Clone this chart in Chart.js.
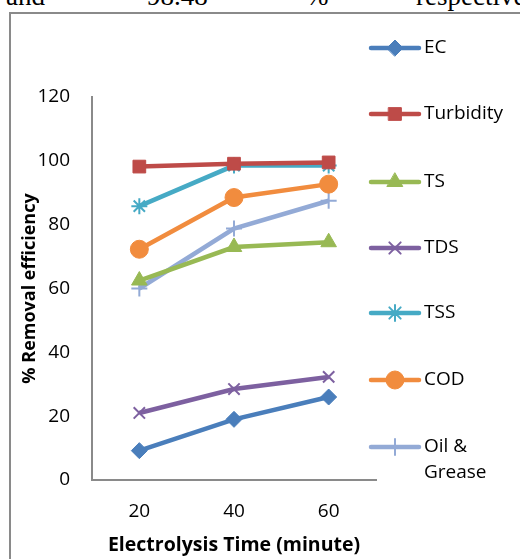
<!DOCTYPE html>
<html>
<head>
<meta charset="utf-8">
<script src="https://cdn.jsdelivr.net/npm/chart.js@4/dist/chart.umd.min.js"></script>
<style>
  html, body { margin: 0; padding: 0; background: #fff; }
  #wrap { position: relative; width: 520px; height: 559px; overflow: hidden; background: #fff; }
  #frame { position: absolute; left: 9px; top: 12px; width: 520px; height: 560px;
           border-left: 2px solid #8a8a8a; border-top: 2px solid #8a8a8a; }
  #cap { position: absolute; left: 0; top: -16px; width: 520px; height: 24px;
         font-family: "Liberation Serif", "Times New Roman", serif; font-size: 27px; line-height: 24px; color: #000; }
  #cap span { position: absolute; top: 0; white-space: nowrap; }
  canvas { position: absolute; left: 0; top: 0; }
</style>
</head>
<body>
<div id="wrap">
  <div id="cap"><span style="left:6px">and</span><span style="left:147px">98.48</span><span style="left:306px">%</span><span style="left:416px">respectively</span></div>
  <div id="frame"></div>
  <canvas id="c" width="520" height="559"></canvas>
</div>
<script>
const categories = ["20", "40", "60"];
const yTicks = [0, 20, 40, 60, 80, 100, 120];
const seriesNames = ["EC", "Turbidity", "TS", "TDS", "TSS", "COD", "Oil & Grease"];
const ecValues = [9.2, 19, 26];
const turbidityValues = [98.2, 99.1, 99.5];
const tsValues = [62.5, 73, 74.5];
const tdsValues = [21, 28.5, 32.3];
const tssValues = [85.8, 98.5, 98.5];
const codValues = [72.3, 88.5, 92.7];
const oilGreaseValues = [60, 78.8, 87.5];
const xTitle = "Electrolysis Time (minute)";
const yTitle = "% Removal efficiency";

const FONT = "'Open Sans', 'DejaVu Sans', sans-serif";

const styles = [
  { color: "#4A7EBB", point: "rectRot", r: 8, bw: 1 },
  { color: "#BE4B48", point: "rect", r: 9, bw: 1 },
  { color: "#98B954", point: "triangle", r: 9, bw: 1 },
  { color: "#7D60A0", point: "crossRot", r: 8, bw: 2 },
  { color: "#46AAC5", point: "star", r: 8, bw: 2 },
  { color: "#F18C3E", point: "circle", r: 9, bw: 1 },
  { color: "#93AAD6", point: "cross", r: 8, bw: 2 }
];
const values = [ecValues, turbidityValues, tsValues, tdsValues, tssValues, codValues, oilGreaseValues];

const datasets = seriesNames.map((name, i) => ({
  label: name,
  data: values[i],
  borderColor: styles[i].color,
  backgroundColor: styles[i].color,
  pointBackgroundColor: styles[i].color,
  pointBorderColor: styles[i].color,
  pointStyle: styles[i].point,
  pointRadius: styles[i].r,
  pointBorderWidth: styles[i].bw,
  borderWidth: 4.5,
  tension: 0,
  fill: false
}));

const legendYs = [48, 114, 182, 248, 313, 380, 447];
const customLegend = {
  id: "customLegend",
  afterDraw(chart) {
    const ctx = chart.ctx;
    chart.data.datasets.forEach((ds, i) => {
      const y = legendYs[i];
      ctx.save();
      ctx.strokeStyle = ds.borderColor;
      ctx.lineWidth = 4.5;
      ctx.lineCap = "round";
      ctx.beginPath();
      ctx.moveTo(371, y);
      ctx.lineTo(419, y);
      ctx.stroke();
      ctx.fillStyle = ds.pointBackgroundColor;
      ctx.strokeStyle = ds.pointBorderColor;
      ctx.lineWidth = ds.pointBorderWidth;
      Chart.helpers.drawPoint(ctx, {
        pointStyle: ds.pointStyle,
        radius: ds.pointRadius,
        borderWidth: ds.pointBorderWidth,
        rotation: 0
      }, 395, y);
      ctx.restore();
      ctx.save();
      ctx.fillStyle = "#000";
      ctx.font = "19px " + FONT;
      ctx.textBaseline = "middle";
      ctx.textAlign = "left";
      if (ds.label === "Oil & Grease") {
        ctx.fillText("Oil &", 424, y);
        ctx.fillText("Grease", 424, y + 26);
      } else {
        ctx.fillText(ds.label, 424, y);
      }
      ctx.restore();
    });
  }
};

new Chart(document.getElementById("c"), {
  type: "line",
  data: { labels: categories, datasets },
  options: {
    responsive: false,
    animation: false,
    layout: { padding: { left: 0, top: 97, right: 144, bottom: 0 } },
    plugins: { legend: { display: false }, tooltip: { enabled: false } },
    scales: {
      x: {
        type: "category",
        offset: true,
        grid: { display: false, drawTicks: false },
        border: { display: true, color: "#8a8a8a", width: 2 },
        ticks: { color: "#000", padding: 20, font: { family: FONT, size: 19 } },
        title: { display: true, text: xTitle, color: "#000", padding: { top: 0, bottom: 2 },
                 font: { family: FONT, size: 19.5, weight: "bold" } },
        afterFit(scale) { scale.height = 79; }
      },
      y: {
        min: 0, max: 120,
        afterBuildTicks(scale) { scale.ticks = yTicks.map(v => ({ value: v })); },
        grid: { display: false, drawTicks: false },
        border: { display: true, color: "#8a8a8a", width: 2 },
        ticks: { color: "#000", padding: 22, font: { family: FONT, size: 19 } },
        title: { display: true, text: yTitle, color: "#000", padding: { top: 19, bottom: 0 },
                 font: { family: FONT, size: 18, weight: "bold" } },
        afterFit(scale) { scale.width = 92; }
      }
    }
  },
  plugins: [customLegend]
});
</script>
</body>
</html>
